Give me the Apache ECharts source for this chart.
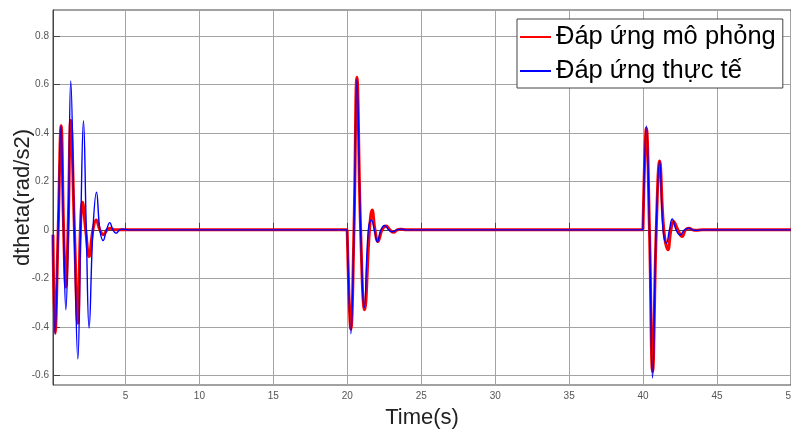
<!DOCTYPE html>
<html>
<head>
<meta charset="utf-8">
<script src="https://cdn.jsdelivr.net/npm/echarts@6/dist/echarts.min.js"></script>
<style>
  html, body { margin: 0; padding: 0; background: #fff; }
  #chart { width: 791px; height: 431px; }
</style>
</head>
<body>
<div id="chart"></div>
<script>
// values (extrema and zero crossings)
var simT = [0.1, 0.24, 0.45, 0.65, 0.82, 0.97, 1.12, 1.30, 1.55, 1.78, 1.95, 2.09, 2.31, 2.54, 2.8, 3.02, 3.27, 3.51, 3.75, 3.96, 4.3, 5,
	19.99, 20.0, 20.24, 20.45, 20.65, 20.9, 21.17, 21.5, 21.68, 21.87, 22.07, 22.35, 22.63, 22.88, 23.13, 23.37, 23.6, 24,
	39.99, 40.0, 40.22, 40.43, 40.64, 40.89, 41.12, 41.4, 41.68, 41.88, 42.06, 42.35, 42.64, 42.87, 43.1, 43.35, 43.6, 44, 50];
var simV = [-0.02, -0.426, 0, 0.429, 0, -0.236, 0, 0.451, 0, -0.385, 0, 0.114, 0, -0.11, 0, 0.041, 0, -0.02, 0, 0.007, 0, 0,
	0, 0, -0.41, 0, 0.63, 0, -0.33, 0, 0.082, 0, -0.048, 0, 0.016, 0, -0.01, 0, 0.003, 0,
	0, 0, 0.42, 0, -0.584, 0, 0.284, 0, -0.082, 0, 0.034, 0, -0.027, 0, 0.007, 0, -0.002, 0, 0];

var realT = [0.1, 0.24, 0.45, 0.64, 0.81, 0.97, 1.13, 1.30, 1.54, 1.78, 1.97, 2.16, 2.35, 2.54, 2.8, 3.04, 3.27, 3.49, 3.72, 3.94, 4.15, 4.37, 4.6, 4.82, 5.2,
	19.99, 20.0, 20.24, 20.45, 20.65, 20.9, 21.15, 21.42, 21.63, 21.83, 22.03, 22.27, 22.52, 22.8, 23.05, 23.35, 23.6, 24,
	39.99, 40.0, 40.22, 40.43, 40.64, 40.88, 41.12, 41.35, 41.58, 41.78, 41.97, 42.23, 42.5, 42.8, 43.1, 43.35, 43.6, 44, 50];
var realV = [-0.02, -0.43, 0, 0.43, 0, -0.33, 0, 0.614, 0, -0.533, 0, 0.45, 0, -0.405, 0, 0.155, 0, -0.044, 0, 0.03, 0, -0.014, 0, 0.003, 0,
	0, 0, -0.429, 0, 0.62, 0, -0.32, 0, 0.041, 0, -0.05, 0, 0.018, 0, -0.008, 0, 0.003, 0,
	0, 0, 0.429, 0, -0.611, 0, 0.284, 0, -0.055, 0, 0.045, 0, -0.021, 0, 0.007, 0, -0.002, 0, 0];

var xTicks = [5, 10, 15, 20, 25, 30, 35, 40, 45, 50];
var yTicks = [-0.6, -0.4, -0.2, 0, 0.2, 0.4, 0.6, 0.8];

function pairs(t, v) {
	return t.map(function (x, i) { return [x, v[i]]; });
}

var font = 'Liberation Sans, Arial, DejaVu Sans, sans-serif';
var chart = echarts.init(document.getElementById('chart'), null, { renderer: 'canvas' });

var option = {
	backgroundColor: '#fff',
	animation: false,
	grid: {
		left: 53, right: 0, top: 10, bottom: 46,
		outerBoundsMode: 'none',
		containLabel: false,
		show: true, borderColor: '#444', borderWidth: 1
	},
	legend: {
		orient: 'vertical',
		left: 517, top: 19,
		padding: [3, 7, 2, 3],
		itemGap: 4,
		itemWidth: 31,
		itemHeight: 2,
		icon: 'rect',
		backgroundColor: '#fff',
		borderColor: '#444',
		borderWidth: 1,
		borderRadius: 0,
		textStyle: { fontFamily: font, fontSize: 25.5, color: '#000', lineHeight: 30 },
		data: ['Đáp ứng mô phỏng', 'Đáp ứng thực tế']
	},
	xAxis: {
		type: 'value',
		min: 0.1, max: 50,
		name: 'Time(s)',
		nameLocation: 'middle',
		nameGap: 22,
		nameMoveOverlap: false,
		nameTextStyle: { fontFamily: font, fontSize: 22, color: '#222' },
		axisLine: { lineStyle: { color: '#444' } },
		axisTick: { inside: true, length: 7, customValues: xTicks, lineStyle: { color: '#444' } },
		axisLabel: { customValues: xTicks, margin: 6, fontFamily: font, fontSize: 10, color: '#555' },
		splitLine: { show: true, lineStyle: { color: '#a4a4a4' } }
	},
	yAxis: {
		type: 'value',
		min: -0.64, max: 0.907,
		name: 'dtheta(rad/s2)',
		nameLocation: 'middle',
		nameGap: 19,
		nameMoveOverlap: false,
		nameTextStyle: { fontFamily: font, fontSize: 22, color: '#222' },
		axisLine: { show: true, lineStyle: { color: '#444' } },
		axisTick: { show: true, inside: true, length: 7, customValues: yTicks, lineStyle: { color: '#444' } },
		axisLabel: { customValues: yTicks, margin: 4, fontFamily: font, fontSize: 10, color: '#555' },
		splitLine: { show: true, lineStyle: { color: '#a4a4a4' } }
	},
	series: [
		{
			name: 'Đáp ứng mô phỏng',
			type: 'line',
			data: pairs(simT, simV),
			smooth: 0.45,
			symbol: 'none',
			color: '#ff0000',
			lineStyle: { color: '#ff0000', width: 3 }
		},
		{
			name: 'Đáp ứng thực tế',
			type: 'line',
			data: pairs(realT, realV),
			smooth: 0.45,
			symbol: 'none',
			color: '#0000ff',
			lineStyle: { color: '#0000ff', width: 1.4 }
		}
	]
};
chart.setOption(option);
</script>
</body>
</html>
